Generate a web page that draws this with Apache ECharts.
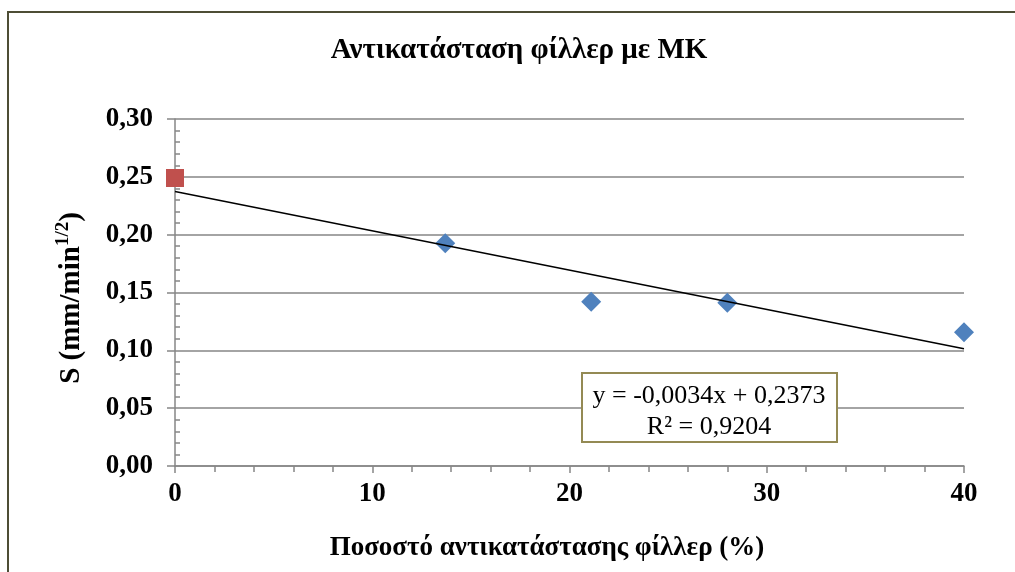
<!DOCTYPE html>
<html>
<head>
<meta charset="utf-8">
<script src="https://cdn.jsdelivr.net/npm/echarts@6/dist/echarts.min.js"></script>
<style>
html,body{margin:0;padding:0;background:#fff;}
#c{width:1015px;height:572px;}
</style>
</head>
<body>
<div id="c"></div>
<script>
// Data
const titleText = 'Αντικατάσταση φίλλερ με ΜΚ';
const xAxisTitle = 'Ποσοστό αντικατάστασης φίλλερ (%)';
const refX = [0];
const refY = [0.249];
const mkX = [13.7, 21.1, 28.0, 40.0];
const mkY = [0.1925, 0.142, 0.1412, 0.1156];
const trendSlope = -0.0034;
const trendIntercept = 0.2373;
const trendRange = [0, 40];
const eqLine1 = 'y = -0,0034x + 0,2373';
const eqLine2 = 'R² = 0,9204';

const FONT = '"Liberation Serif", "Times New Roman", serif';
const GRAY = '#868686';

const chart = echarts.init(document.getElementById('c'));
const zip = (xs, ys) => xs.map((x, i) => [x, ys[i]]);
const trendData = trendRange.map(x => [x, trendSlope * x + trendIntercept]);

chart.setOption({
  animation: false,
  grid: {left: 175, top: 119, width: 789, height: 347},
  xAxis: {
    type: 'value', min: 0, max: 40, interval: 10,
    axisLine: {lineStyle: {color: GRAY, width: 1.5}},
    axisTick: {show: true, inside: false, length: 7, lineStyle: {color: GRAY, width: 1.5}},
    minorTick: {show: true, splitNumber: 5, length: 6, lineStyle: {color: GRAY, width: 1.5}},
    splitLine: {show: false},
    axisLabel: {margin: 15, color: '#000', fontFamily: FONT, fontWeight: 'bold', fontSize: 27}
  },
  yAxis: [{
    type: 'value', min: 0, max: 0.3, interval: 0.05,
    axisLine: {show: true, lineStyle: {color: GRAY, width: 1.5}},
    axisTick: {show: true, inside: false, length: 8, lineStyle: {color: GRAY, width: 1.5}},
    splitLine: {show: true, lineStyle: {color: GRAY, width: 1.5}},
    axisLabel: {margin: 22, color: '#000', fontFamily: FONT, fontWeight: 'bold', fontSize: 27,
      formatter: v => v.toFixed(2).replace('.', ',')}
  }, {
    type: 'value', min: 0, max: 0.3, interval: 0.05, position: 'left',
    axisLine: {show: false},
    axisTick: {show: false, inside: true},
    minorTick: {show: true, splitNumber: 5, length: 5, lineStyle: {color: GRAY, width: 1.5}},
    splitLine: {show: false},
    axisLabel: {show: false}
  }],
  series: [{
    type: 'scatter', data: zip(refX, refY), symbol: 'rect', symbolSize: 18,
    itemStyle: {color: '#C0504D', opacity: 1}, z: 3
  }, {
    type: 'scatter', data: zip(mkX, mkY), symbol: 'diamond', symbolSize: 20,
    itemStyle: {color: '#4F81BD', opacity: 1}, z: 3
  }, {
    type: 'line', data: trendData, showSymbol: false, symbol: 'none',
    lineStyle: {color: '#000', width: 1.5}, z: 4, silent: true
  }],
  graphic: [
    {type: 'polyline', shape: {points: [[8, 600], [8, 12], [1020, 12]]},
     style: {stroke: '#4d4d35', lineWidth: 2, fill: null}, z: 10},
    {type: 'text', x: 519, y: 51, style: {text: titleText, font: 'bold 29px ' + FONT,
      fill: '#000', textAlign: 'center', textVerticalAlign: 'middle'}},
    {type: 'text', x: 547, y: 548, style: {text: xAxisTitle, font: 'bold 27px ' + FONT,
      fill: '#000', textAlign: 'center', textVerticalAlign: 'middle'}},
    {type: 'text', x: 70, y: 298, rotation: Math.PI / 2,
     style: {text: '{b|S (mm/min}{s|1/2}{b|)}', textAlign: 'center', textVerticalAlign: 'middle',
       rich: {b: {font: 'bold 29px ' + FONT, fill: '#000', verticalAlign: 'bottom'},
              s: {font: 'bold 19px ' + FONT, fill: '#000', verticalAlign: 'top', padding: [0,0,13,0]}}}},
    {type: 'rect', shape: {x: 582, y: 373, width: 255, height: 69},
     style: {fill: '#fff', stroke: '#948A54', lineWidth: 2}, z: 20},
    {type: 'text', x: 709, y: 396, z: 21, style: {text: eqLine1, font: '26px ' + FONT,
      fill: '#000', textAlign: 'center', textVerticalAlign: 'middle'}},
    {type: 'text', x: 709, y: 427, z: 21, style: {text: eqLine2, font: '26px ' + FONT,
      fill: '#000', textAlign: 'center', textVerticalAlign: 'middle'}}
  ]
});
</script>
</body>
</html>
